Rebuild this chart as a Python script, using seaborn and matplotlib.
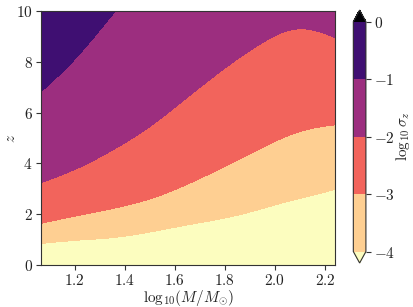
import numpy as np
import matplotlib
matplotlib.use("Agg")
import matplotlib.pyplot as plt
from matplotlib.colors import ListedColormap, BoundaryNorm
import seaborn as sns

# ---- data (boundaries of log10 sigma_z levels) ----
mass_x = [1.065, 1.2, 1.35, 1.5, 1.65, 1.8, 1.95, 2.05, 2.15, 2.24]
z_level_m4 = [0.85, 0.97, 1.08, 1.30, 1.58, 1.85, 2.22, 2.50, 2.74, 2.98]
z_level_m3 = [1.64, 1.92, 2.22, 2.60, 3.18, 3.88, 4.62, 5.08, 5.38, 5.52]
z_level_m2 = [3.24, 3.76, 4.52, 5.45, 6.60, 7.75, 8.75, 9.22, 9.25, 8.95]
z_level_m1 = [6.82, 8.10, 9.85, 11.6, 13.4, 15.2, 17.0, 18.2, 19.4, 20.5]
levels = [-4, -3, -2, -1, 0]
cbar_ticks = [0, -1, -2, -3, -4]
xticks = [1.2, 1.4, 1.6, 1.8, 2.0, 2.2]
yticks = [0, 2, 4, 6, 8, 10]

sns.set_style("ticks")
plt.rcParams.update({
    "font.family": "serif",
    "font.serif": ["cmr10"],
    "mathtext.fontset": "cm",
    "axes.formatter.use_mathtext": True,
    "axes.unicode_minus": True,
    "font.size": 11,
    "axes.edgecolor": "#333333",
    "xtick.major.size": 3.5,
    "ytick.major.size": 3.5,
    "xtick.major.pad": 2.5,
    "ytick.major.pad": 2.5,
    "xtick.color": "#333333",
    "ytick.color": "#333333",
    "xtick.labelcolor": "#222222",
    "ytick.labelcolor": "#222222",
})


def smooth_curve(xp, yp, xq):
    """Natural cubic spline through the read points."""
    xp = np.asarray(xp, float)
    yp = np.asarray(yp, float)
    n = len(xp)
    h = np.diff(xp)
    A = np.zeros((n, n))
    r = np.zeros(n)
    A[0, 0] = A[-1, -1] = 1.0
    for i in range(1, n - 1):
        A[i, i - 1] = h[i - 1]
        A[i, i] = 2 * (h[i - 1] + h[i])
        A[i, i + 1] = h[i]
        r[i] = 6 * ((yp[i + 1] - yp[i]) / h[i] - (yp[i] - yp[i - 1]) / h[i - 1])
    M = np.linalg.solve(A, r)
    k = np.clip(np.searchsorted(xp, xq) - 1, 0, n - 2)
    t0 = xq - xp[k]
    t1 = xp[k + 1] - xq
    hk = h[k]
    return (M[k] * t1 ** 3 / (6 * hk) + M[k + 1] * t0 ** 3 / (6 * hk)
            + (yp[k] / hk - M[k] * hk / 6) * t1 + (yp[k + 1] / hk - M[k + 1] * hk / 6) * t0)


# build field from the boundary curves
xg = np.linspace(mass_x[0], mass_x[-1], 500)
zg = np.linspace(0, 10, 600)
b4 = smooth_curve(mass_x, z_level_m4, xg)
b3 = smooth_curve(mass_x, z_level_m3, xg)
b2 = smooth_curve(mass_x, z_level_m2, xg)
b1 = smooth_curve(mass_x, z_level_m1, xg)
F = np.empty((len(zg), len(xg)))
for j in range(len(xg)):
    zp = [-1.0, b4[j], b3[j], b2[j], b1[j], b1[j] + 5.0]
    vp = [-5.0, -4.0, -3.0, -2.0, -1.0, 0.0]
    F[:, j] = np.interp(zg, zp, vp)

magma = sns.color_palette("magma", as_cmap=True)
cmap = ListedColormap([magma(0.9), magma(0.675), magma(0.44), magma(0.21)])
cmap = cmap.with_extremes(under=magma(1.0), over=magma(0.0))
norm = BoundaryNorm(levels, cmap.N)

fig = plt.figure(figsize=(4.13, 3.07), dpi=100)
ax = fig.add_axes([0.0993, 0.1368, 0.7118, 0.8274])
cs = ax.contourf(xg, zg, F, levels=levels, cmap=cmap, norm=norm, extend="both")
ax.set_xlim(mass_x[0], mass_x[-1])
ax.set_ylim(0, 10)
ax.set_xticks(xticks)
ax.set_yticks(yticks)
ax.set_xlabel(r"$\mathrm{log}_{10}(M/M_{\odot})$", labelpad=0)
ax.set_ylabel(r"$z$", labelpad=-1.5)

cax = fig.add_axes([0.8555, 0.1433, 0.0305, 0.8240])
cb = fig.colorbar(cs, cax=cax, ticks=cbar_ticks)
cb.set_label(r"$\log_{10}\sigma_z$", labelpad=-1)
cb.outline.set_edgecolor("#333333")
cb.ax.tick_params(size=3.5, pad=2.5)

fig.savefig("out.png", dpi=100)
